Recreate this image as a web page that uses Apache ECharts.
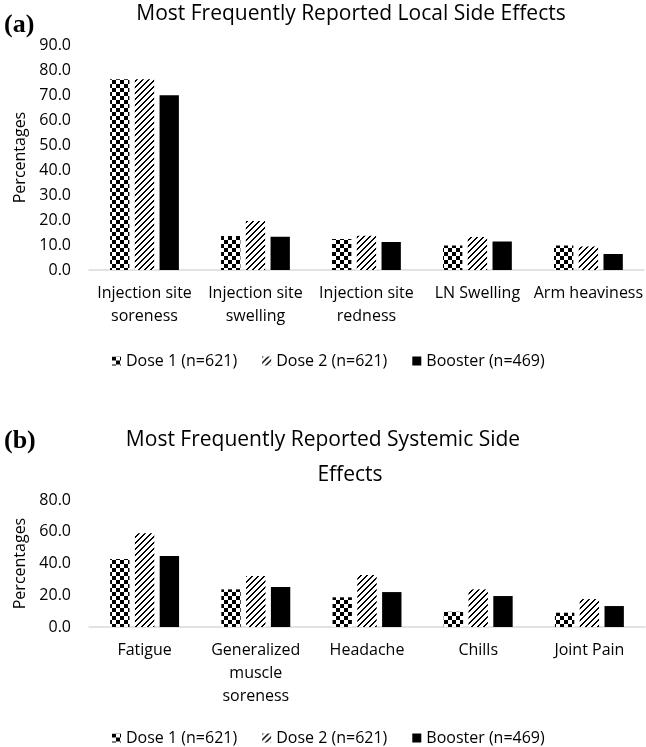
<!DOCTYPE html>
<html><head><meta charset="utf-8">
<script src="https://cdn.jsdelivr.net/npm/echarts@6/dist/echarts.min.js"></script>
<style>html,body{margin:0;padding:0;background:#fff}#c{width:646px;height:747px}</style>
</head><body><div id="c"></div>
<script>
const seriesNames = ['Dose 1 (n=621)', 'Dose 2 (n=621)', 'Booster (n=469)'];
const yTicksA = [0, 90, 10];
const yTicksB = [0, 80, 20];
const catsA = ['Injection site\nsoreness', 'Injection site\nswelling', 'Injection site\nredness', 'LN Swelling', 'Arm heaviness'];
const dose1A = [76.3, 13.6, 12.4, 9.8, 9.8];
const dose2A = [76.3, 19.6, 13.7, 13.2, 9.4];
const boosterA = [69.9, 13.3, 11.2, 11.4, 6.4];
const catsB = ['Fatigue', 'Generalized\nmuscle\nsoreness', 'Headache', 'Chills', 'Joint Pain'];
const dose1B = [42.8, 23.7, 18.7, 9.6, 9.0];
const dose2B = [59.0, 32.1, 32.8, 23.7, 17.6];
const boosterB = [44.7, 25.2, 22.0, 19.5, 13.2];

function checker() {
  const c = document.createElement('canvas'); c.width = 8; c.height = 8;
  const g = c.getContext('2d');
  g.fillStyle = '#fff'; g.fillRect(0, 0, 8, 8);
  g.fillStyle = '#000'; g.fillRect(0, 0, 4, 4); g.fillRect(4, 4, 4, 4);
  return c;
}
function hatch() {
  const n = 6;
  const c = document.createElement('canvas'); c.width = n; c.height = n;
  const g = c.getContext('2d');
  g.fillStyle = '#fff'; g.fillRect(0, 0, n, n);
  g.fillStyle = '#000';
  for (let x = 0; x < n; x++) {
    g.fillRect(x, n - 1 - x, 1, 1);
    g.fillRect(x, (n - x) % n, 1, 1);
  }
  return c;
}
const fills = [
  { image: checker(), repeat: 'repeat' },
  { image: hatch(), repeat: 'repeat' },
  '#000'
];
const FONT = '"Open Sans", sans-serif';

const chart = echarts.init(document.getElementById('c'), null, { renderer: 'canvas' });

function yAxis(grid, t) {
  return {
    type: 'value', gridIndex: grid, min: t[0], max: t[1], interval: t[2],
    name: 'Percentages', nameLocation: 'middle', nameGap: 50, nameRotate: 90,
    nameTextStyle: { fontFamily: FONT, fontSize: 16, color: '#000' },
    axisLine: { show: false }, axisTick: { show: false }, splitLine: { show: false },
    axisLabel: { fontFamily: FONT, fontSize: 16, color: '#000', margin: 18, formatter: v => v.toFixed(1) }
  };
}
function xAxis(grid, cats) {
  return {
    type: 'category', gridIndex: grid, data: cats,
    axisLine: { lineStyle: { color: '#d9d9d9', width: 1.5 } }, axisTick: { show: false },
    axisLabel: { fontFamily: FONT, fontSize: 16, color: '#000', margin: 12, lineHeight: 23, interval: 0 }
  };
}
function bars(grid, data) {
  return data.map((d, i) => ({
    name: seriesNames[i], type: 'bar', xAxisIndex: grid, yAxisIndex: grid, data: d,
    barGap: '28%', barCategoryGap: '38%',
    itemStyle: { color: fills[i] }
  }));
}
function legend(top) {
  return {
    data: seriesNames, top: top, left: 107, itemWidth: 9, itemHeight: 9, itemGap: 25,
    icon: 'rect', selectedMode: false,
    textStyle: { fontFamily: FONT, fontSize: 16, color: '#000' }
  };
}
function txt(s, x, y, font, align) {
  return { type: 'text', x: x, y: y, style: { text: s, font: font, fill: '#000', align: align || 'center', verticalAlign: 'middle' } };
}

chart.setOption({
  animation: false,
  backgroundColor: '#fff',
  grid: [
    { left: 89, right: 1, top: 45, height: 225 },
    { left: 89, right: 1, top: 500, height: 127 }
  ],
  xAxis: [xAxis(0, catsA), xAxis(1, catsB)],
  yAxis: [yAxis(0, yTicksA), yAxis(1, yTicksB)],
  legend: [legend(348), legend(725)],
  graphic: [
    txt('(a)', 4, 25, 'bold 26px "Liberation Serif", serif', 'left'),
    txt('(b)', 4, 441, 'bold 26px "Liberation Serif", serif', 'left'),
    txt('Most Frequently Reported Local Side Effects', 351, 14, '21px ' + FONT),
    txt('Most Frequently Reported Systemic Side', 323, 440, '21px ' + FONT),
    txt('Effects', 350, 475, '21px ' + FONT)
  ],
  series: [...bars(0, [dose1A, dose2A, boosterA]), ...bars(1, [dose1B, dose2B, boosterB])]
});
</script></body></html>
